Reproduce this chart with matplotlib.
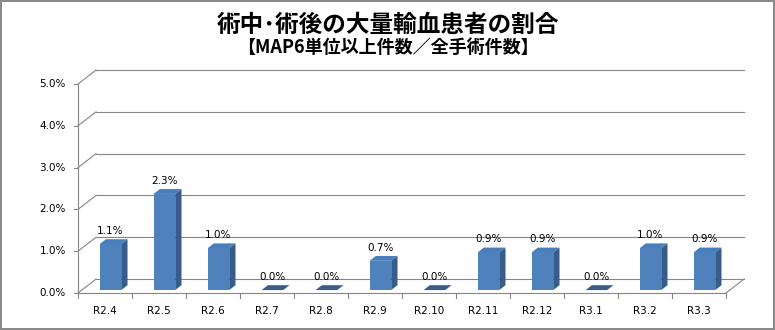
import matplotlib.pyplot as plt
from matplotlib.patches import Polygon
import numpy as np

categories = ['R2.4', 'R2.5', 'R2.6', 'R2.7', 'R2.8', 'R2.9', 'R2.10',
              'R2.11', 'R2.12', 'R3.1', 'R3.2', 'R3.3']
values = [1.1, 2.3, 1.0, 0.0, 0.0, 0.7, 0.0, 0.9, 0.9, 0.0, 1.0, 0.9]
y_ticks = [0, 1, 2, 3, 4, 5]
title = '術中･術後の大量輸血患者の割合'
subtitle = '【MAP6単位以上件数／全手術件数】'

# Pseudo-3D geometry (data units: 1 per category, 1 per percent)
du, dv = 1 / 3, 1 / 3          # depth offset of back wall
f0, f1 = 0.21, 0.56            # bar depth range (fraction of full depth)
bw = 0.40                      # bar width
grid_c = '#868686'
front_c, side_c, top_c = '#4F81BD', '#385D8A', '#4A7EBB'

fig = plt.figure(figsize=(7.75, 3.3), dpi=100)
fig.patch.set_edgecolor('#8a8a8a')
fig.patch.set_linewidth(1.5)
ax = fig.add_axes([0, 0, 1, 1])
ax.set_xlim(-78 / 54, 697 / 54)
ax.set_ylim(-37 / 41.8, 293 / 41.8)
ax.axis('off')

n = len(categories)

# back wall gridlines + left wall diagonals
for t in y_ticks:
    ax.plot([du, n + du], [t + dv, t + dv], color=grid_c, lw=0.8, zorder=1)
    ax.plot([0, du], [t, t + dv], color=grid_c, lw=0.8, zorder=1)
    ax.plot([-0.074, 0], [t, t], color=grid_c, lw=0.8, zorder=1)
    ax.text(-0.222, t, f'{t:.1f}%', ha='right', va='center', fontsize=7.5)

# left axis and floor edges
ax.plot([0, 0], [0, y_ticks[-1]], color=grid_c, lw=0.8, zorder=1)
ax.plot([0, n], [0, 0], color=grid_c, lw=0.8, zorder=1)
ax.plot([n, n + du], [0, dv], color=grid_c, lw=0.8, zorder=1)
for i in range(n + 1):
    ax.plot([i, i], [0, -0.12], color=grid_c, lw=0.8, zorder=1)

# bars
dd_u, dd_v = (f1 - f0) * du, (f1 - f0) * dv
for i, (cat, v) in enumerate(zip(categories, values)):
    L = i + 0.53 - bw / 2 + f0 * du
    R = L + bw
    b = f0 * dv
    h = b + v
    top = Polygon([(L, h), (R, h), (R + dd_u, h + dd_v), (L + dd_u, h + dd_v)],
                  closed=True, facecolor=top_c if v > 0 else side_c,
                  edgecolor='none', zorder=3)
    ax.add_patch(top)
    if v > 0:
        ax.add_patch(Polygon([(L, b), (R, b), (R, h), (L, h)], closed=True,
                             facecolor=front_c, edgecolor='none', zorder=3))
        ax.add_patch(Polygon([(R, b), (R + dd_u, b + dd_v), (R + dd_u, h + dd_v), (R, h)],
                             closed=True, facecolor=side_c, edgecolor='none', zorder=3))
    ax.text((L + R) / 2, h + 0.31, f'{v:.1f}%', ha='center', va='center',
            fontsize=7.5, zorder=4)
    ax.text(i + 0.5, -0.43, cat, ha='center', va='center', fontsize=7.5)

cjk = ['Noto Sans CJK JP', 'DejaVu Sans']
fig.text(0.5, 1 - 25 / 330, title, ha='center', va='center', fontsize=17,
         fontweight='bold', family=cjk)
fig.text(0.5, 1 - 47 / 330, subtitle, ha='center', va='center', fontsize=13,
         fontweight='bold', family=cjk)

fig.savefig('out.png', dpi=100)
